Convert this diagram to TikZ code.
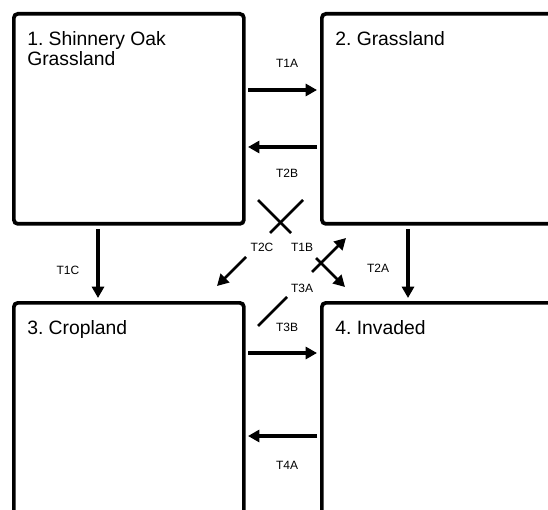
\documentclass[tikz,border=0pt]{standalone}
\usepackage{fontspec}
\setmainfont{Liberation Sans}
\usetikzlibrary{arrows.meta}
\tikzset{
  statebox/.style={draw=black, line width=2.8pt, rounded corners=3pt, inner sep=0pt, anchor=north west},
  statetext/.style={anchor=north west, inner sep=0pt, align=left, font=\fontsize{14.5}{15}\selectfont\frenchspacing},
  trans/.style={line width=2.4pt, -{Triangle[length=8.5pt,width=9pt]}},
  diag/.style={line width=2pt},
  translabel/.style={inner sep=0pt, font=\fontsize{9}{10}\selectfont}
}
\begin{document}
\begin{tikzpicture}[x=0.75pt, y=-0.75pt]
          \useasboundingbox (0,0) rectangle (548,509);
          \node[statebox, minimum width=172.5pt, minimum height=157.5pt] (S1) at (12, 12) {};
          \node[statebox, minimum width=180pt, minimum height=157.5pt] (S2) at (320, 12) {};
          \node[statebox, minimum width=172.5pt, minimum height=165pt] (S3) at (12, 301) {};
          \node[statebox, minimum width=180pt, minimum height=165pt] (S4) at (320, 301) {};
          \node[statetext] (S1t) at (27, 31) {1. Shinnery Oak\\Grassland};
          \node[statetext] (S2t) at (335, 31) {2. Grassland};
          \node[statetext] (S3t) at (27, 320) {3. Cropland};
          \node[statetext] (S4t) at (335, 320) {4. Invaded};
          % horizontal transitions
          \coordinate (a1) at (248, 90);
          \coordinate (b1) at (317, 90);
          \coordinate (a2) at (317, 147);
          \coordinate (b2) at (248, 147);
          \coordinate (a3) at (248, 353);
          \coordinate (b3) at (317, 353);
          \coordinate (a4) at (317, 436);
          \coordinate (b4) at (248, 436);
          \draw[trans] (a1) -- (b1);
          \draw[trans] (a2) -- (b2);
          \draw[trans] (a3) -- (b3);
          \draw[trans] (a4) -- (b4);
          % vertical transitions
          \coordinate (v1) at (98, 229);
          \coordinate (w1) at (98, 298);
          \coordinate (v2) at (408, 229);
          \coordinate (w2) at (408, 298);
          \draw[trans] (v1) -- (w1);
          \draw[trans] (v2) -- (w2);
          % diagonal transitions
          \coordinate (d1) at (258, 200);
          \coordinate (e1) at (291, 233);
          \coordinate (f1) at (316, 258);
          \coordinate (g1) at (345, 287);
          \coordinate (d2) at (303, 200);
          \coordinate (e2) at (270, 233);
          \coordinate (f2) at (246, 257);
          \coordinate (g2) at (217, 286);
          \coordinate (d3) at (258, 326);
          \coordinate (e3) at (287, 297);
          \coordinate (f3) at (312, 272);
          \coordinate (g3) at (346, 238);
          \draw[diag] (d1) -- (e1);
          \draw[trans, line width=2pt] (f1) -- (g1);
          \draw[diag] (d2) -- (e2);
          \draw[trans, line width=2pt] (f2) -- (g2);
          \draw[diag] (d3) -- (e3);
          \draw[trans, line width=2pt] (f3) -- (g3);
          % labels
          \node[translabel] (T1A) at (287, 63) {T1A};
          \node[translabel] (T2B) at (287, 173) {T2B};
          \node[translabel] (T3B) at (287, 327) {T3B};
          \node[translabel] (T4A) at (287, 465) {T4A};
          \node[translabel] (T1C) at (68, 270) {T1C};
          \node[translabel] (T2A) at (378, 268) {T2A};
          \node[translabel] (T2C) at (262, 247) {T2C};
          \node[translabel] (T1B) at (302, 247) {T1B};
          \node[translabel] (T3A) at (302, 288) {T3A};
        \end{tikzpicture}
\end{document}
